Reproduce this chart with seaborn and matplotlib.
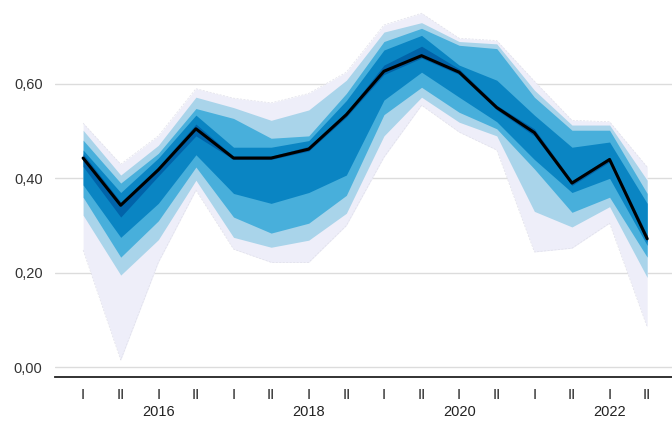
import numpy as np
import pandas as pd
import matplotlib
matplotlib.use("Agg")
import matplotlib.pyplot as plt
import matplotlib.transforms as mtransforms
import seaborn as sns

# half-year periods 2015 I .. 2022 II
periods = ["I", "II"] * 8
years = [2015, 2015, 2016, 2016, 2017, 2017, 2018, 2018,
         2019, 2019, 2020, 2020, 2021, 2021, 2022, 2022]
year_labels = ["2016", "2018", "2020", "2022"]

median = [0.443, 0.343, 0.418, 0.505, 0.443, 0.443, 0.462, 0.535,
          0.627, 0.660, 0.625, 0.550, 0.497, 0.390, 0.440, 0.272]

# fan bands, outermost first: (lower, upper)
outer_lo = [0.248, 0.015, 0.222, 0.375, 0.250, 0.222, 0.222, 0.300,
            0.445, 0.555, 0.498, 0.460, 0.244, 0.252, 0.305, 0.085]
outer_hi = [0.517, 0.430, 0.490, 0.590, 0.570, 0.560, 0.580, 0.625,
            0.725, 0.750, 0.697, 0.692, 0.606, 0.523, 0.520, 0.424]
light_lo = [0.322, 0.195, 0.270, 0.396, 0.275, 0.254, 0.269, 0.326,
            0.490, 0.572, 0.519, 0.490, 0.330, 0.297, 0.340, 0.190]
light_hi = [0.502, 0.407, 0.470, 0.572, 0.550, 0.523, 0.545, 0.608,
            0.710, 0.730, 0.690, 0.685, 0.587, 0.513, 0.513, 0.396]
mid_lo = [0.360, 0.233, 0.310, 0.424, 0.318, 0.284, 0.305, 0.364,
          0.535, 0.593, 0.540, 0.505, 0.420, 0.328, 0.360, 0.233]
mid_hi = [0.481, 0.390, 0.453, 0.548, 0.527, 0.485, 0.490, 0.580,
          0.690, 0.718, 0.682, 0.675, 0.572, 0.502, 0.502, 0.368]
dark_lo = [0.386, 0.275, 0.347, 0.450, 0.368, 0.347, 0.370, 0.407,
           0.566, 0.625, 0.572, 0.520, 0.440, 0.370, 0.400, 0.258]
dark_hi = [0.460, 0.370, 0.443, 0.534, 0.466, 0.466, 0.480, 0.565,
           0.672, 0.703, 0.640, 0.608, 0.534, 0.466, 0.477, 0.347]
core_lo = [0.425, 0.318, 0.405, 0.490, 0.440, 0.440, 0.458, 0.530,
           0.620, 0.655, 0.620, 0.545, 0.490, 0.385, 0.435, 0.265]
core_hi = [0.452, 0.350, 0.425, 0.515, 0.447, 0.447, 0.468, 0.540,
           0.640, 0.680, 0.632, 0.555, 0.505, 0.395, 0.445, 0.280]

yticks = [0.0, 0.2, 0.4, 0.6]
ytick_labels = ["0,00", "0,20", "0,40", "0,60"]

df = pd.DataFrame({"t": np.arange(len(median)), "period": periods,
                   "year": years, "median": median})

sns.set_style("white")
plt.rcParams["font.family"] = ["Liberation Sans", "DejaVu Sans"]

fig = plt.figure(figsize=(6.72, 4.21), dpi=100)
ax = fig.add_axes([0.082, 0.1045, 0.918, 0.8955])

bands = [
    (outer_lo, outer_hi, "#eeeef9"),
    (light_lo, light_hi, "#a9d4ea"),
    (mid_lo, mid_hi, "#48afdb"),
    (dark_lo, dark_hi, "#0a85c3"),
    (core_lo, core_hi, "#0163a9"),
]
for lo, hi, col in bands:
    ax.fill_between(df["t"], lo, hi, color=col, lw=0, zorder=2)
# very faint dashed edge around the outer band
ax.plot(df["t"], outer_hi, color="#e0e0ea", lw=0.5, ls=(0, (3, 2)), zorder=2)
ax.plot(df["t"], outer_lo, color="#e0e0ea", lw=0.5, ls=(0, (3, 2)), zorder=2)

sns.lineplot(data=df, x="t", y="median", color="black", lw=2.2, ax=ax, zorder=3)

for y in yticks:
    ax.axhline(y, color="#dcdcdc", lw=1, zorder=1)

ax.set_xlim(-0.745, 15.66)
ax.set_ylim(-0.021, 0.778)
ax.set_yticks(yticks)
ax.set_yticklabels(ytick_labels, fontsize=10.5, color="#333333")
ax.tick_params(axis="y", length=0, pad=9)

ax.set_xticks(df["t"])
ax.set_xticklabels(df["period"], fontsize=10.5, color="#222222")
ax.tick_params(axis="x", direction="out", length=5, width=1.2, color="#222222", pad=3)

trans = mtransforms.blended_transform_factory(ax.transData, ax.transAxes)
for lab in year_labels:
    i = years.index(int(lab))
    ax.text(i, -0.075, lab, transform=trans, ha="center", va="top",
            fontsize=10.5, color="#222222")

for s in ["top", "right", "left"]:
    ax.spines[s].set_visible(False)
ax.spines["bottom"].set_color("#222222")
ax.spines["bottom"].set_linewidth(1.3)
ax.set_xlabel("")
ax.set_ylabel("")

fig.savefig("out.png", dpi=100)
